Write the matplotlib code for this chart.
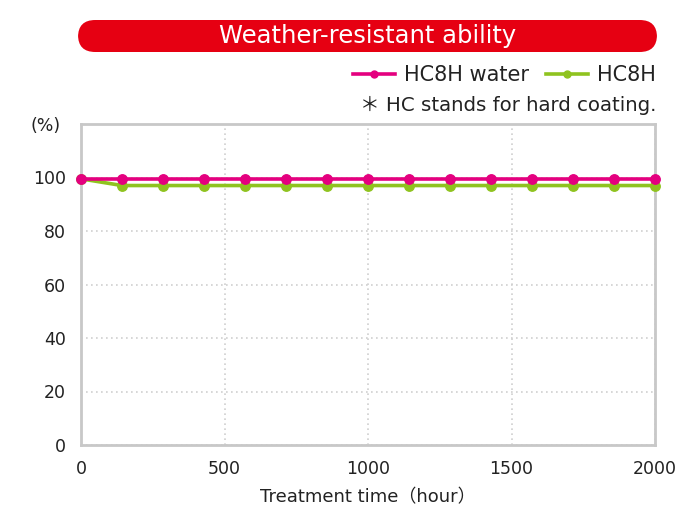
import matplotlib
matplotlib.use("Agg")
import matplotlib.pyplot as plt
from matplotlib.patches import FancyBboxPatch
from matplotlib.lines import Line2D

plt.rcParams['font.family'] = ['DejaVu Sans', 'Noto Sans CJK JP']

hours = [0, 143, 286, 429, 571, 714, 857, 1000, 1143, 1286, 1429, 1571, 1714, 1857, 2000]
hc8h_water = [99.5] * 15
hc8h = [99.5] + [97.0] * 14
xticks = [0, 500, 1000, 1500, 2000]
yticks = [0, 20, 40, 60, 80, 100]

PINK = '#E4007F'
GREEN = '#8FC31F'
GRID = '#D0D0D0'
SPINE = '#C8C8C8'
TXT = '#222222'

fig = plt.figure(figsize=(6.9, 5.23), dpi=100)
ax = fig.add_axes([81/690, 1-445/523, (655-81)/690, (445-124)/523])

ax.plot(hours, hc8h, color=GREEN, lw=2.6, marker='o', ms=6.8, clip_on=False, zorder=3, label='HC8H')
ax.plot(hours, hc8h_water, color=PINK, lw=2.6, marker='o', ms=6.8, clip_on=False, zorder=4, label='HC8H water')

ax.set_xlim(0, 2000)
ax.set_ylim(0, 120)
ax.set_xticks(xticks)
ax.set_yticks(yticks)
ax.tick_params(length=0, labelsize=12.5, colors=TXT, pad=11)
ax.tick_params(axis='y', pad=11)
ax.grid(True, color=GRID, linestyle=(0, (1, 2)), lw=1.2)
for s in ax.spines.values():
    s.set_color(SPINE)
    s.set_linewidth(2)
ax.set_xlabel('Treatment time（hour）', fontsize=13, color=TXT, labelpad=7.5)

fig.text(46/690, 1-126/523, '(%)', fontsize=12.5, ha='center', va='center', color=TXT)

# Title banner
banner = FancyBboxPatch((78/690, 1-52/523), (657-78)/690, 32/523,
                        boxstyle='round,pad=0,rounding_size=0.025',
                        transform=fig.transFigure, facecolor='#E60012', edgecolor='none',
                        mutation_aspect=690/523)
fig.patches.append(banner)
fig.text(368/690, 1-36.5/523, 'Weather-resistant ability', fontsize=17.5, color='white',
         ha='center', va='center')

# Legend
h1 = Line2D([], [], color=PINK, lw=2.6, marker='o', ms=5)
h2 = Line2D([], [], color=GREEN, lw=2.6, marker='o', ms=5)
fig.legend([h1, h2], ['HC8H water', 'HC8H'], loc='center right',
           bbox_to_anchor=(656/690, 1-75/523), ncol=2, frameon=False,
           fontsize=15, handlelength=2.0, handletextpad=0.45, columnspacing=0.8,
           borderaxespad=0, borderpad=0, labelcolor=TXT)
fig.text(656/690, 1-105/523, '＊ HC stands for hard coating.', fontsize=14.2,
         ha='right', va='center', color=TXT)

fig.savefig('out.png', dpi=100)
